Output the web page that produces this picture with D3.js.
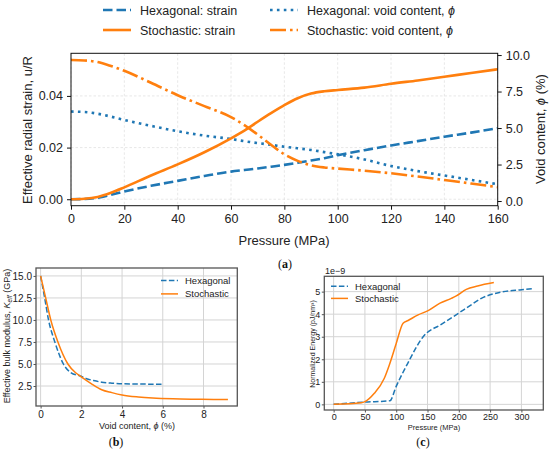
<!DOCTYPE html>
<html>
<head>
<meta charset="utf-8">
<script src="https://cdn.jsdelivr.net/npm/d3@7"></script>
<style>
  body { margin: 0; background: #fff; }
  svg text { font-family: "Liberation Sans", Arial, sans-serif; }
  .cap { font-family: "Liberation Serif", serif; }
</style>
</head>
<body>
<div id="chart"></div>
<script>
// Colours used by all three panels
const blue = "#1f77b4";
const orange = "#ff7f0e";

// (a) strain and void content vs pressure
const pressure = [0, 5, 10, 15, 20, 30, 40, 50, 60, 65, 70, 75, 80, 85, 90, 95, 100, 110, 120, 130, 140, 150, 160];
const hexStrain = [0, 0.0001, 0.0006, 0.0017, 0.003, 0.0052, 0.0071, 0.009, 0.0107, 0.0113, 0.0119, 0.0126, 0.0133,
    0.0141, 0.015, 0.0159, 0.017, 0.019, 0.0208, 0.0225, 0.0242, 0.0258, 0.0275];
const stochStrain = [0, 0.0002, 0.0009, 0.0025, 0.0046, 0.0092, 0.0135, 0.0182, 0.0236, 0.0266, 0.03, 0.0333, 0.0364,
    0.0391, 0.0409, 0.0418, 0.0423, 0.0432, 0.0447, 0.046, 0.0474, 0.0489, 0.0503];
const hexVoid = [6.13, 6.1, 5.98, 5.78, 5.55, 5.15, 4.78, 4.48, 4.25, 4.1, 3.97, 3.85, 3.72, 3.61, 3.5, 3.35, 3.2,
    2.85, 2.4, 2.05, 1.75, 1.45, 1.15];
const stochVoid = [9.66, 9.63, 9.52, 9.25, 8.92, 8.1, 7.25, 6.5, 5.75, 5.2, 4.55, 3.85, 3.2, 2.75, 2.45, 2.3, 2.22,
    2.08, 1.9, 1.68, 1.44, 1.2, 0.95];
const xTicksA = [0, 20, 40, 60, 80, 100, 120, 140, 160];
const strainTicks = [0, 0.02, 0.04];
const voidTicks = [0, 2.5, 5, 7.5, 10];

// (b) bulk modulus vs void content
const bVoidHex = [0, 0.2, 0.39, 0.7, 1.12, 1.5, 1.92, 2.3, 2.6, 3, 3.5, 4, 5, 6];
const bModHex = [15, 12.5, 10, 7.5, 5.0, 4.0, 3.67, 3.3, 3.12, 2.93, 2.82, 2.76, 2.72, 2.7];
const bVoidStoch = [0, 0.25, 0.5, 0.85, 1.34, 1.72, 1.95, 2.5, 3, 3.5, 4, 4.8, 5.5, 6.5, 7.5, 8.5, 9.2];
const bModStoch = [15, 12.5, 10, 7.5, 5.0, 4.0, 3.62, 2.75, 2.08, 1.75, 1.48, 1.25, 1.13, 1.04, 1.0, 0.98, 0.97];
const xTicksB = [0, 2, 4, 6, 8];
const yTicksB = [2.5, 5, 7.5, 10, 12.5, 15];

// (c) normalized energy vs pressure (x 1e-9)
const cPressHex = [0, 50, 90, 100, 118, 143, 172, 200, 218, 236, 268, 300, 319];
const cEnergyHex = [0, 0.1, 0.16, 0.8, 1.8, 3.0, 3.55, 4.05, 4.38, 4.7, 4.98, 5.08, 5.13];
const cPressStoch = [0, 44, 50, 65, 81, 89, 100, 111, 119, 135, 151, 170, 188, 196, 212, 230, 256];
const cEnergyStoch = [0, 0.07, 0.12, 0.49, 1.16, 1.75, 2.7, 3.6, 3.72, 3.97, 4.16, 4.49, 4.7, 4.81, 5.1, 5.25, 5.4];
const xTicksC = [0, 50, 100, 150, 200, 250, 300];
const yTicksC = [0, 1, 2, 3, 4, 5];

let svg = d3.select("#chart").append("svg")
    .attr("width", 550)
    .attr("height", 452);

function zip(xs, ys) {
    return xs.map((x, i) => [x, ys[i]]);
}

function drawLine(g, x, y, pts, color, width, dash) {
    g.append("path")
        .datum(pts)
        .attr("fill", "none")
        .attr("stroke", color)
        .attr("stroke-width", width)
        .attr("stroke-dasharray", dash)
        .attr("d", d3.line().x(d => x(d[0])).y(d => y(d[1])).curve(d3.curveMonotoneX));
}

function styleAxis(sel, size, color) {
    sel.selectAll("path").remove();
    sel.selectAll("line").attr("stroke", color);
    sel.selectAll("text").attr("font-size", size).attr("fill", "#222");
}

// ---------- panel (a) ----------
function drawPanelA() {
    let x = d3.scaleLinear().domain([0, 160]).range([71, 497.7]);
    let yL = d3.scaleLinear().domain([-0.0025, 0.0565]).range([205.7, 53.3]);
    let yR = d3.scaleLinear().domain([-0.32, 10.12]).range([205.7, 53.3]);
    let g = svg.append("g");

    // dashed grid from the bottom axis and the left axis
    g.selectAll("line.gx").data(xTicksA).enter().append("line")
        .attr("x1", d => x(d)).attr("x2", d => x(d)).attr("y1", 53.3).attr("y2", 205.7)
        .attr("stroke", "#e2e2e2").attr("stroke-width", 0.8).attr("stroke-dasharray", "2.5,2");
    g.selectAll("line.gy").data(strainTicks).enter().append("line")
        .attr("x1", 71).attr("x2", 497.7).attr("y1", d => yL(d)).attr("y2", d => yL(d))
        .attr("stroke", "#e2e2e2").attr("stroke-width", 0.8).attr("stroke-dasharray", "2.5,2");

    drawLine(g, x, yL, zip(pressure, hexStrain), blue, 2.6, "9.5,4");
    drawLine(g, x, yR, zip(pressure, hexVoid), blue, 2.6, "2.6,4.3");
    drawLine(g, x, yL, zip(pressure, stochStrain), orange, 2.6, null);
    drawLine(g, x, yR, zip(pressure, stochVoid), orange, 2.6, "16,4,2.6,4");

    g.append("rect").attr("x", 71).attr("y", 53.3).attr("width", 426.7).attr("height", 152.4)
        .attr("fill", "none").attr("stroke", "#111").attr("stroke-width", 1);

    let ax = g.append("g").attr("transform", "translate(0,205.7)")
        .call(d3.axisBottom(x).tickValues(xTicksA).tickSize(4).tickPadding(4).tickFormat(d3.format("d")));
    styleAxis(ax, 12.5, "#111");
    let al = g.append("g").attr("transform", "translate(71,0)")
        .call(d3.axisLeft(yL).tickValues(strainTicks).tickSize(4).tickPadding(4).tickFormat(d3.format(".2f")));
    styleAxis(al, 12.5, "#111");
    let ar = g.append("g").attr("transform", "translate(497.7,0)")
        .call(d3.axisRight(yR).tickValues(voidTicks).tickSize(4).tickPadding(4).tickFormat(d3.format(".1f")));
    styleAxis(ar, 12.5, "#111");

    g.append("text").attr("x", 284).attr("y", 245).attr("text-anchor", "middle")
        .attr("font-size", 13).attr("fill", "#222").text("Pressure (MPa)");
    g.append("text").attr("transform", "translate(32,130) rotate(-90)").attr("text-anchor", "middle")
        .attr("font-size", 13).attr("fill", "#222").text("Effective radial strain, u/R");
    let rl = g.append("text").attr("transform", "translate(545,129) rotate(-90)").attr("text-anchor", "middle")
        .attr("font-size", 13).attr("fill", "#222");
    rl.append("tspan").text("Void content, ");
    rl.append("tspan").attr("font-style", "italic").text("ϕ");
    rl.append("tspan").text(" (%)");

    // two-column legend above the plot
    let legend = [
        {label: "Hexagonal: strain", color: blue, dash: "9.5,4", x: 103, y: 10},
        {label: "Stochastic: strain", color: orange, dash: null, x: 103, y: 30},
        {label: "Hexagonal: void content, ", color: blue, dash: "2.6,4.3", x: 270, y: 10},
        {label: "Stochastic: void content, ", color: orange, dash: "16,4,2.6,4", x: 270, y: 30}
    ];
    legend.forEach((d, i) => {
        g.append("line").attr("x1", d.x).attr("x2", d.x + 28).attr("y1", d.y).attr("y2", d.y)
            .attr("stroke", d.color).attr("stroke-width", 2.6).attr("stroke-dasharray", d.dash);
        let t = g.append("text").attr("x", d.x + 37).attr("y", d.y + 4.5)
            .attr("font-size", 12.5).attr("fill", "#222").text(d.label);
        if (i > 1) t.append("tspan").attr("font-style", "italic").text("ϕ");
    });

    let cap = g.append("text").attr("class", "cap").attr("x", 285).attr("y", 268)
        .attr("text-anchor", "middle").attr("font-size", 12).attr("fill", "#111");
    cap.append("tspan").text("(");
    cap.append("tspan").attr("font-weight", "bold").text("a");
    cap.append("tspan").text(")");
}

// box with solid grid used by panels (b) and (c)
function drawFrame(g, x, y, xt, yt, box, fmtX, fmtY, fontSize, padX) {
    let [left, top, right, bottom] = box;
    g.selectAll(null).data(xt).enter().append("line")
        .attr("x1", d => x(d)).attr("x2", d => x(d)).attr("y1", top).attr("y2", bottom)
        .attr("stroke", "#d4d4d4").attr("stroke-width", 1);
    g.selectAll(null).data(yt).enter().append("line")
        .attr("x1", left).attr("x2", right).attr("y1", d => y(d)).attr("y2", d => y(d))
        .attr("stroke", "#d4d4d4").attr("stroke-width", 1);
    let ax = g.append("g").attr("transform", `translate(0,${bottom})`)
        .call(d3.axisBottom(x).tickValues(xt).tickSize(2.5).tickPadding(padX).tickFormat(fmtX));
    styleAxis(ax, fontSize, "#555");
    let ay = g.append("g").attr("transform", `translate(${left},0)`)
        .call(d3.axisLeft(y).tickValues(yt).tickSize(2.5).tickPadding(1.5).tickFormat(fmtY));
    styleAxis(ay, fontSize, "#555");
}

function drawBox(g, box) {
    let [left, top, right, bottom] = box;
    g.append("rect").attr("x", left).attr("y", top).attr("width", right - left).attr("height", bottom - top)
        .attr("fill", "none").attr("stroke", "#555").attr("stroke-width", 1.3);
}

function smallLegend(g, x, y, gap, items) {
    items.forEach((d, i) => {
        g.append("line").attr("x1", x).attr("x2", x + 17).attr("y1", y + i * gap).attr("y2", y + i * gap)
            .attr("stroke", d.color).attr("stroke-width", 1.5).attr("stroke-dasharray", d.dash);
        g.append("text").attr("x", x + 24).attr("y", y + i * gap + 3.5)
            .attr("font-size", 9.5).attr("fill", "#222").text(d.label);
    });
}

// ---------- panel (b) ----------
function drawPanelB() {
    let box = [36, 268, 237.3, 406];
    let x = d3.scaleLinear().domain([-0.226, 9.66]).range([box[0], box[2]]);
    let y = d3.scaleLinear().domain([0.23, 15.9]).range([box[3], box[1]]);
    let g = svg.append("g");
    drawFrame(g, x, y, xTicksB, yTicksB, box, d3.format("d"), d3.format(".1f"), 10, 2);

    drawLine(g, x, y, zip(bVoidHex, bModHex), blue, 1.5, "5.5,2.4");
    drawLine(g, x, y, zip(bVoidStoch, bModStoch), orange, 1.5, null);
    drawBox(g, box);

    smallLegend(g, 161, 280.5, 13.4, [
        {label: "Hexagonal", color: blue, dash: "5.5,2.4"},
        {label: "Stochastic", color: orange, dash: null}
    ]);

    let xl = g.append("text").attr("x", 137).attr("y", 428.5).attr("text-anchor", "middle")
        .attr("font-size", 9).attr("fill", "#222");
    xl.append("tspan").text("Void content, ");
    xl.append("tspan").attr("font-style", "italic").text("ϕ");
    xl.append("tspan").text(" (%)");

    let yl = g.append("text").attr("transform", "translate(10,336) rotate(-90)").attr("text-anchor", "middle")
        .attr("font-size", 9).attr("fill", "#222");
    yl.append("tspan").text("Effective bulk modulus, ");
    yl.append("tspan").attr("font-style", "italic").text("K");
    yl.append("tspan").attr("font-style", "italic").attr("font-size", 6.5).attr("dy", 2).text("eff");
    yl.append("tspan").attr("dy", -2).text(" (GPa)");

    let cap = g.append("text").attr("class", "cap").attr("x", 116).attr("y", 446)
        .attr("text-anchor", "middle").attr("font-size", 12).attr("fill", "#111");
    cap.append("tspan").text("(");
    cap.append("tspan").attr("font-weight", "bold").text("b");
    cap.append("tspan").text(")");
}

// ---------- panel (c) ----------
function drawPanelC() {
    let box = [324.3, 276.3, 543.3, 410];
    let x = d3.scaleLinear().domain([-14.9, 335]).range([box[0], box[2]]);
    let y = d3.scaleLinear().domain([-0.25, 5.68]).range([box[3], box[1]]);
    let g = svg.append("g");
    drawFrame(g, x, y, xTicksC, yTicksC, box, d3.format("d"), d3.format("d"), 9, 1);

    drawLine(g, x, y, zip(cPressHex, cEnergyHex), blue, 1.5, "5.5,2.4");
    drawLine(g, x, y, zip(cPressStoch, cEnergyStoch), orange, 1.5, null);
    drawBox(g, box);

    smallLegend(g, 331, 286.2, 12.2, [
        {label: "Hexagonal", color: blue, dash: "5.5,2.4"},
        {label: "Stochastic", color: orange, dash: null}
    ]);

    g.append("text").attr("x", 325).attr("y", 274).attr("font-size", 9).attr("fill", "#222").text("1e\u22129");
    g.append("text").attr("x", 434).attr("y", 429.5).attr("text-anchor", "middle")
        .attr("font-size", 7.5).attr("fill", "#222").text("Pressure (MPa)");
    g.append("text").attr("transform", "translate(314.5,344) rotate(-90)").attr("text-anchor", "middle")
        .attr("font-size", 7).attr("fill", "#222").text("Normalized Energy (pJ/nm\u00b3)");

    let cap = g.append("text").attr("class", "cap").attr("x", 423).attr("y", 446)
        .attr("text-anchor", "middle").attr("font-size", 12).attr("fill", "#111");
    cap.append("tspan").text("(");
    cap.append("tspan").attr("font-weight", "bold").text("c");
    cap.append("tspan").text(")");
}

drawPanelA();
drawPanelB();
drawPanelC();
</script>
</body>
</html>
